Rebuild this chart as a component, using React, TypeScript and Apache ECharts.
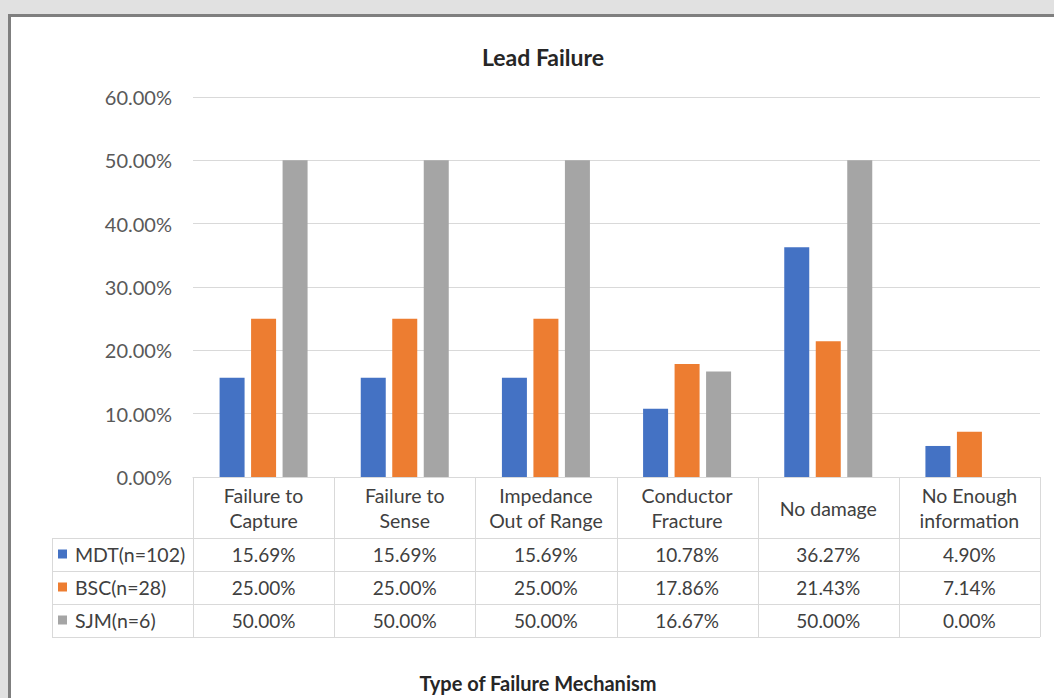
import React, { useEffect, useRef } from "react";
import * as echarts from "echarts";

const categories = [
  "Failure to\nCapture",
  "Failure to\nSense",
  "Impedance\nOut of Range",
  "Conductor\nFracture",
  "No damage",
  "No Enough\ninformation",
];
const seriesNames = ["MDT(n=102)", "BSC(n=28)", "SJM(n=6)"];
const mdtValues = [15.69, 15.69, 15.69, 10.78, 36.27, 4.9];
const bscValues = [25.0, 25.0, 25.0, 17.86, 21.43, 7.14];
const sjmValues = [50.0, 50.0, 50.0, 16.67, 50.0, 0.0];
const colors = ["#4472C4", "#ED7D31", "#A5A5A5"];
const chartTitle = "Lead Failure";
const xAxisTitle = "Type of Failure Mechanism";

const FONT = "Lato, 'Liberation Sans', sans-serif";
const TEXT = "#404040";
const LINE = "#d9d9d9";

export default function App() {
  const ref = useRef<HTMLDivElement>(null);
  useEffect(() => {
    if (!ref.current) return;
    const chart = echarts.init(ref.current, undefined, { renderer: "svg" });
    const allSeries = [mdtValues, bscValues, sjmValues];
    chart.setOption({
      animation: false,
      backgroundColor: "transparent",
      textStyle: { fontFamily: FONT },
      title: {
        text: chartTitle,
        left: 538,
        top: 40,
        textAlign: "center",
        textStyle: { fontFamily: FONT, fontWeight: "bold", fontSize: 23, color: "#262626" },
      },
      grid: { left: 193, right: 14, top: 97, bottom: 221, containLabel: false },
      xAxis: {
        type: "category",
        data: categories,
        axisLine: { show: true, lineStyle: { color: LINE, width: 1 } },
        axisTick: { show: false },
        axisLabel: {
          interval: 0,
          margin: 31,
          verticalAlign: "middle",
          lineHeight: 25,
          fontSize: 19.5,
          color: TEXT,
          fontFamily: FONT,
        },
      },
      yAxis: {
        type: "value",
        min: 0,
        max: 60,
        interval: 10,
        axisLine: { show: false },
        axisTick: { show: false },
        splitLine: { lineStyle: { color: LINE, width: 1 } },
        axisLabel: {
          margin: 21,
          fontSize: 20,
          color: "#595959",
          fontFamily: FONT,
          formatter: (v: number) => v.toFixed(2) + "%",
        },
      },
      series: allSeries.map((d, i) => ({
        type: "bar",
        name: seriesNames[i],
        data: d,
        barWidth: 25,
        barGap: "26%",
        itemStyle: { color: colors[i] },
      })),
    });

    // build table from the axis scales
    const c0 = chart.convertToPixel({ xAxisIndex: 0 }, 0) as number;
    const c1 = chart.convertToPixel({ xAxisIndex: 0 }, 1) as number;
    const colW = c1 - c0;
    const left = c0 - colW / 2;
    const right = left + colW * categories.length;
    const y0 = chart.convertToPixel({ yAxisIndex: 0 }, 0) as number;
    const headerBottom = y0 + 61;
    const rowH = 33;
    const tableLeft = 52;
    const tableBottom = headerBottom + rowH * seriesNames.length;

    const g: any[] = [];
    g.push({
      type: "rect",
      z: -100,
      silent: true,
      shape: { x: 9.5, y: 15.5, width: 1200, height: 900 },
      style: { fill: "#ffffff", stroke: "#7f7f7f", lineWidth: 3 },
    });
    for (let r = 0; r <= seriesNames.length; r++) {
      const y = Math.round(headerBottom + r * rowH) + 0.5;
      g.push({ type: "line", silent: true, shape: { x1: tableLeft, y1: y, x2: right, y2: y }, style: { stroke: LINE, lineWidth: 1 } });
    }
    g.push({ type: "line", silent: true, shape: { x1: tableLeft + 0.5, y1: headerBottom, x2: tableLeft + 0.5, y2: tableBottom }, style: { stroke: LINE, lineWidth: 1 } });
    for (let c = 0; c <= categories.length; c++) {
      const x = Math.round(left + c * colW) + 0.5;
      g.push({ type: "line", silent: true, shape: { x1: x, y1: y0, x2: x, y2: tableBottom }, style: { stroke: LINE, lineWidth: 1 } });
    }
    seriesNames.forEach((name, r) => {
      const cy = headerBottom + r * rowH + rowH / 2;
      g.push({ type: "rect", silent: true, shape: { x: 58, y: cy - 5, width: 9, height: 9 }, style: { fill: colors[r] } });
      g.push({
        type: "text",
        silent: true,
        style: { x: 75, y: cy, text: name, fill: TEXT, font: `19.5px ${FONT}`, verticalAlign: "middle", align: "left" },
      });
      allSeries[r].forEach((v, c) => {
        const cx = chart.convertToPixel({ xAxisIndex: 0 }, c) as number;
        g.push({
          type: "text",
          silent: true,
          style: { x: cx, y: cy, text: v.toFixed(2) + "%", fill: TEXT, font: `19px ${FONT}`, verticalAlign: "middle", align: "center" },
        });
      });
    });
    g.push({
      type: "text",
      silent: true,
      style: { x: 538, y: 683, text: xAxisTitle, fill: "#262626", font: `bold 20px ${FONT}`, verticalAlign: "middle", align: "center" },
    });
    chart.setOption({ graphic: g });

    return () => chart.dispose();
  }, []);
  return (
    <div style={{ position: "fixed", left: 0, top: 0, width: 1054, height: 698, background: "#e1e1e1" }}>
      <div ref={ref} style={{ width: 1054, height: 698 }} />
    </div>
  );
}
